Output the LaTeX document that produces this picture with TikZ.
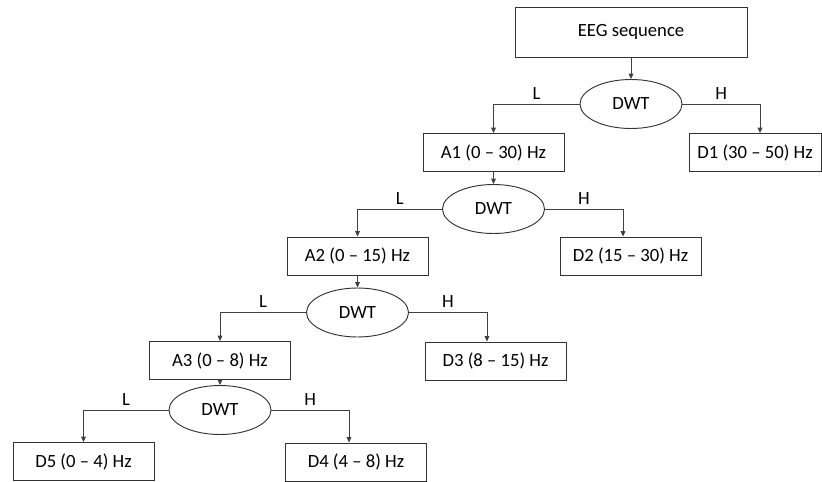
\documentclass[tikz,border=0pt]{standalone}
\usepackage{fontspec}
\setmainfont{Carlito}
\usetikzlibrary{arrows.meta, shapes.geometric}

\begin{document}
\begin{tikzpicture}[
    x=0.75pt, y=-0.75pt,
    every node/.style={align=center, font=\fontsize{14}{16}\selectfont},
    band/.style={rectangle, draw=black!80, line width=0.7pt, minimum width=105.75pt, minimum height=28.5pt, inner sep=0pt},
    wavelet/.style={ellipse, draw=black!80, line width=0.7pt, minimum width=76.5pt, minimum height=36.75pt, inner sep=0pt},
    arrow/.style={-{Triangle[length=4pt, width=3.5pt]}, draw=black!75, line width=0.6pt}
]
\useasboundingbox (0,0) rectangle (822,482);

% Nodes
\node[band, minimum width=174pt, minimum height=37.5pt] (eeg) at (631,32) {EEG sequence};
\node[wavelet] (dwta) at (631,104) {DWT};
\node[band] (aone) at (493.5,152.5) {A1 (0 -- 30) Hz};
\node[band, minimum width=99pt] (done) at (755,152.5) {D1 (30 -- 50) Hz};
\node[wavelet] (dwtb) at (493.5,209) {DWT};
\node[band] (atwo) at (357.5,256) {A2 (0 -- 15) Hz};
\node[band] (dtwo) at (630.5,256) {D2 (15 -- 30) Hz};
\node[wavelet] (dwtc) at (357.5,312.5) {DWT};
\node[band] (athree) at (220,360.5) {A3 (0 -- 8) Hz};
\node[band] (dthree) at (495.5,361) {D3 (8 -- 15) Hz};
\node[wavelet] (dwtd) at (220,410) {DWT};
\node[band] (dfive) at (83.5,461.5) {D5 (0 -- 4) Hz};
\node[band] (dfour) at (356,462) {D4 (4 -- 8) Hz};

% Connections
\draw[arrow] (eeg) -- (dwta);
\draw[arrow] (dwta.west) -| node[pos=0.25, above]{L} (aone.north);
\draw[arrow] (dwta.east) -| node[pos=0.25, above]{H} ([xshift=3.75pt]done.north);
\draw[arrow] (aone) -- (dwtb);
\draw[arrow] (dwtb.west) -| node[pos=0.25, above]{L} (atwo.north);
\draw[arrow] (dwtb.east) -| node[pos=0.25, above]{H} ([xshift=-5.6pt]dtwo.north);
\draw[arrow] (atwo) -- (dwtc);
\draw[arrow] (dwtc.west) -| node[pos=0.25, above]{L} (athree.north);
\draw[arrow] (dwtc.east) -| node[pos=0.25, above]{H} ([xshift=-6.4pt]dthree.north);
\draw[arrow] (athree) -- (dwtd);
\draw[arrow] (dwtd.west) -| node[pos=0.25, above]{L} (dfive.north);
\draw[arrow] (dwtd.east) -| node[pos=0.25, above]{H} ([xshift=-5.25pt]dfour.north);

\end{tikzpicture}
\end{document}
